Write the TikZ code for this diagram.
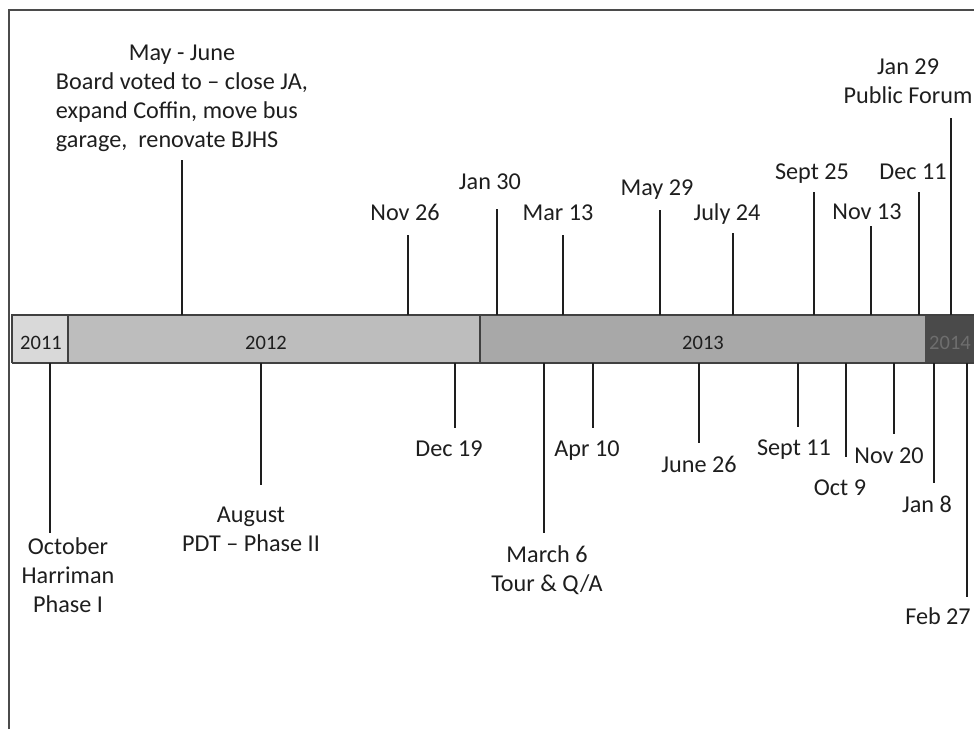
\documentclass[tikz,border=0pt]{standalone}
\usepackage{fontspec}
\setmainfont{Carlito}
\definecolor{yA}{HTML}{D9D9D9}
\definecolor{yB}{HTML}{BDBDBD}
\definecolor{yC}{HTML}{A8A8A8}
\definecolor{yD}{HTML}{4A4A4A}
\definecolor{ink}{HTML}{1E1E1E}
\begin{document}
\begin{tikzpicture}[x=1pt,y=-1pt,
  lbl/.style={anchor=base,inner sep=0pt,text=ink,font=\fontsize{24.2}{29}\selectfont},
  yearlbl/.style={anchor=base,inner sep=0pt,text=ink,font=\fontsize{20.5}{24}\selectfont},
  tick/.style={draw=ink,line width=2.4pt},
  frame/.style={draw=ink!80,line width=1.8pt}]
\useasboundingbox (0,0) rectangle (974,729);
% frame
\coordinate (fA) at (9,729);
\coordinate (fB) at (9,10);
\coordinate (fC) at (980,10);
\draw[frame] (fA) -- (fB) -- (fC);
% bar
\fill[yA] (12,315) rectangle (68,363);
\fill[yB] (68,315) rectangle (480,363);
\fill[yC] (480,315) rectangle (925,363);
\fill[yD] (925,315) rectangle (980,363);
\draw[ink!85,line width=2pt] (12,363) -- (12,315) -- (980,315);
\draw[ink!85,line width=2pt] (12,363) -- (980,363);
\draw[ink!85,line width=2pt] (68,315) -- (68,363);
\draw[ink!85,line width=2pt] (480,315) -- (480,363);
\node[yearlbl] (y2011) at (41,349) {2011};
\node[yearlbl] (y2012) at (266,349) {2012};
\node[yearlbl] (y2013) at (703,349) {2013};
\node[yearlbl,text=yD!80!white] (y2014) at (950,349) {2014};
% ticks above
\foreach \x/\y/\n in {182/160/a,408/235/b,497/209/c,563/235/d,660/210/e,733/233/f,814/192/g,871/226/h,919/192/i,951/118/j}{
  \coordinate (up\n0) at (\x,315);
  \coordinate (up\n1) at (\x,\y);
  \draw[tick] (up\n0) -- (up\n1);
}
% ticks below
\foreach \x/\y/\n in {50/533/a,261/485/b,455/428/c,544/533/d,593/428/e,699/443/f,798/427/g,846/457/h,894/434/i,934/483/j,967/597/k}{
  \coordinate (dn\n0) at (\x,363);
  \coordinate (dn\n1) at (\x,\y);
  \draw[tick] (dn\n0) -- (dn\n1);
}
% labels above
\node[lbl] (mayjune) at (182,60) {\begin{tabular}[t]{@{}l@{}}\multicolumn{1}{@{}c@{}}{May - June}\\Board voted to -- close JA,\\expand Coffin, move bus\\garage,\ \ renovate BJHS\end{tabular}};
\node[lbl] (nov26) at (405,220) {Nov 26};
\node[lbl] (jan30) at (490,189) {Jan 30};
\node[lbl] (mar13) at (558,220) {Mar 13};
\node[lbl] (may29) at (657,195) {May 29};
\node[lbl] (jul24) at (727,220) {July 24};
\node[lbl] (sep25) at (812,179) {Sept 25};
\node[lbl] (nov13) at (867,219) {Nov 13};
\node[lbl] (dec11) at (913,179) {Dec 11};
\node[lbl] (jan29) at (908,74) {\begin{tabular}[t]{@{}c@{}}Jan 29\\Public Forum\end{tabular}};
% labels below
\node[lbl] (oct) at (68,554) {\begin{tabular}[t]{@{}c@{}}October\\Harriman\\Phase I\end{tabular}};
\node[lbl] (aug) at (251,522) {\begin{tabular}[t]{@{}c@{}}August\\PDT -- Phase II\end{tabular}};
\node[lbl] (dec19) at (449,456) {Dec 19};
\node[lbl] (mar6) at (547,562) {\begin{tabular}[t]{@{}c@{}}March 6\\Tour \& Q/A\end{tabular}};
\node[lbl] (apr10) at (587,456) {Apr 10};
\node[lbl] (jun26) at (699,472) {June 26};
\node[lbl] (sep11) at (794,455) {Sept 11};
\node[lbl] (oct9) at (840,495) {Oct 9};
\node[lbl] (nov20) at (889,463) {Nov 20};
\node[lbl] (jan8) at (927,512) {Jan 8};
\node[lbl] (feb27) at (938,624) {Feb 27};
\end{tikzpicture}
\end{document}
